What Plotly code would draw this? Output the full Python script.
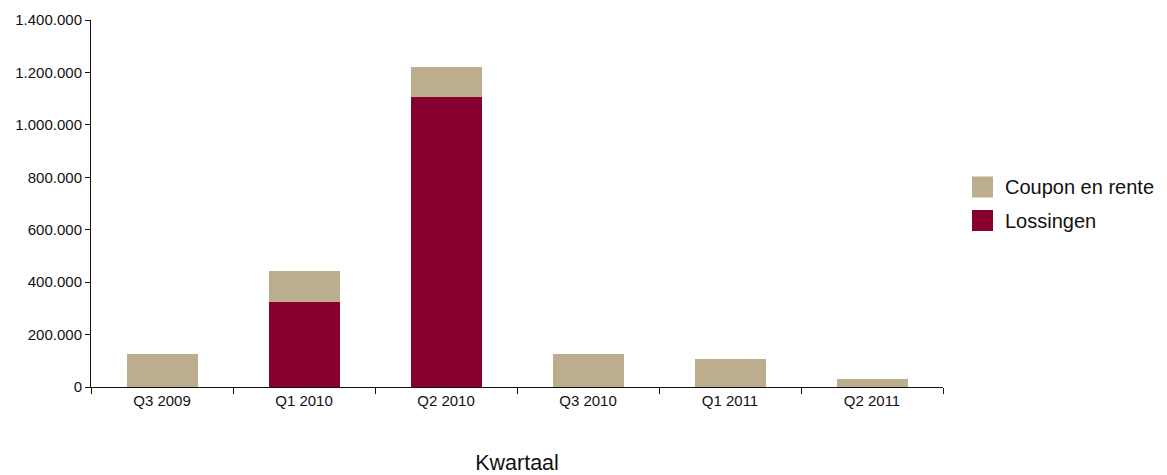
import plotly.graph_objects as go

categories = ["Q3 2009", "Q1 2010", "Q2 2010", "Q3 2010", "Q1 2011", "Q2 2011"]
lossingen = [0, 325000, 1105000, 0, 0, 0]
coupon_en_rente = [127000, 119000, 115000, 127000, 106000, 29000]
series_names = ["Coupon en rente", "Lossingen"]
colors = {"Coupon en rente": "#BCAE8C", "Lossingen": "#870030"}

FONT = "Liberation Sans, Arial, sans-serif"

fig = go.Figure()
fig.add_trace(go.Bar(x=categories, y=lossingen, name="Lossingen",
                     marker=dict(color=colors["Lossingen"], line=dict(width=0)),
                     width=0.5, showlegend=False))
fig.add_trace(go.Bar(x=categories, y=coupon_en_rente, name="Coupon en rente",
                     marker=dict(color=colors["Coupon en rente"], line=dict(width=0)),
                     width=0.5, showlegend=False))

# page body has an 8px margin, so the figure is drawn 8px in from the window corner
OFF = 8
W, H = 1167 - OFF, 475 - OFF
L, R, T, B = 91 - OFF, 943 - OFF, 20 - OFF, 387 - OFF

def px_x(x):
    return (x - OFF - L) / (R - L)

def px_y(y):
    return (B - (y - OFF)) / (B - T)

# manual legend (large swatches like the reference)
legend_rows = [(series_names[0], 187), (series_names[1], 220.5)]
for name, cy in legend_rows:
    fig.add_shape(type="rect", xref="paper", yref="paper",
                  x0=px_x(972), x1=px_x(993), y0=px_y(cy + 10.5), y1=px_y(cy - 10.5),
                  fillcolor=colors[name], line=dict(width=0))
    fig.add_annotation(xref="paper", yref="paper", x=px_x(1003), y=px_y(cy),
                       text=name, showarrow=False, xanchor="left", yanchor="middle",
                       font=dict(family=FONT, size=20, color="#111"))

fig.update_layout(
    width=W, height=H,
    barmode="stack",
    bargap=0.5,
    separators=",.",
    plot_bgcolor="white", paper_bgcolor="white",
    margin=dict(l=L, r=W - R, t=T, b=H - B, autoexpand=False),
    font=dict(family=FONT, size=15, color="#111"),
    showlegend=False,
)
fig.update_xaxes(
    showline=True, linecolor="#111", linewidth=1,
    ticks="outside", ticklen=6, tickcolor="#111", tickson="boundaries",
    showgrid=False, automargin=False,
    tickfont=dict(size=15),
    title=dict(text="Kwartaal", font=dict(size=21.5), standoff=50),
)
fig.update_yaxes(
    range=[0, 1400000], tickvals=[0, 200000, 400000, 600000, 800000, 1000000, 1200000, 1400000],
    tickformat=",d",
    showline=True, linecolor="#111", linewidth=1,
    ticks="outside", ticklen=5, tickcolor="#111",
    showgrid=False, zeroline=False, automargin=False,
    tickfont=dict(size=15),
)

fig.write_html("out.html")
